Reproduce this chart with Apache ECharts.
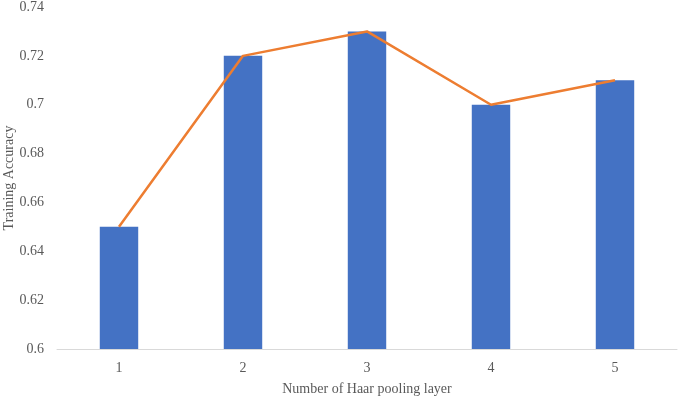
<!DOCTYPE html>
<html>
<head>
<meta charset="utf-8">
<script src="https://cdn.jsdelivr.net/npm/echarts@6/dist/echarts.min.js"></script>
<style>
html,body{margin:0;padding:0;background:#fff;}
#chart{width:678px;height:397px;}
</style>
</head>
<body>
<div id="chart"></div>
<script>
var layers=['1','2','3','4','5'];
var barValues=[0.65,0.72,0.73,0.70,0.71];
var lineValues=[0.65,0.72,0.73,0.70,0.71];
var yTicks=[0.6,0.62,0.64,0.66,0.68,0.7,0.72,0.74];

var chart=echarts.init(document.getElementById('chart'));
var fontFam='"Liberation Serif", "Times New Roman", serif';
var option={
    animation:false,
    textStyle:{fontFamily:fontFam},
    grid:{left:57,right:1,top:7,bottom:48,containLabel:false,outerBoundsMode:'none'},
    xAxis:{
        type:'category',
        data:layers,
        name:'Number of Haar pooling layer',
        nameLocation:'middle',
        nameGap:33,
        nameMoveOverlap:false,
        nameTextStyle:{color:'#595959',fontSize:14,fontFamily:fontFam},
        axisLine:{lineStyle:{color:'#d9d9d9',width:1}},
        axisTick:{show:false},
        axisLabel:{color:'#595959',fontSize:14,margin:12,fontFamily:fontFam}
    },
    yAxis:{
        type:'value',
        min:yTicks[0],
        max:yTicks[yTicks.length-1],
        interval:0.02,
        name:'Training Accuracy',
        nameLocation:'middle',
        nameGap:41,
        nameMoveOverlap:false,
        nameTextStyle:{color:'#595959',fontSize:14,fontFamily:fontFam},
        axisLine:{show:false},
        axisTick:{show:false},
        splitLine:{show:false},
        axisLabel:{color:'#595959',fontSize:14,margin:13,fontFamily:fontFam,
            formatter:function(v){return String(parseFloat(v.toFixed(2)));}}
    },
    series:[
        {
            type:'bar',
            data:barValues,
            barWidth:'31%',
            itemStyle:{color:'#4472C4'}
        },
        {
            type:'line',
            data:lineValues,
            symbol:'none',
            lineStyle:{color:'#ED7D31',width:2.5}
        }
    ]
};
chart.setOption(option);
</script>
</body>
</html>
